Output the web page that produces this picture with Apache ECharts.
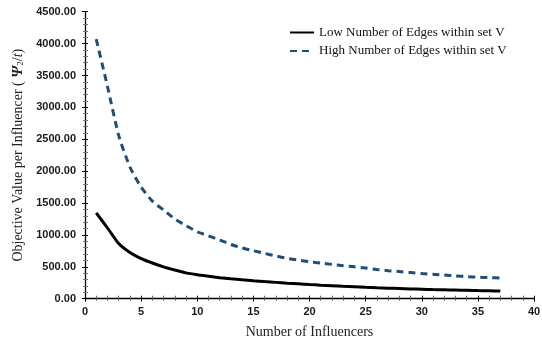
<!DOCTYPE html>
<html>
<head>
<meta charset="utf-8">
<script src="https://cdn.jsdelivr.net/npm/echarts@6/dist/echarts.min.js"></script>
<style>
  html, body { margin: 0; padding: 0; background: #fff; }
  #chart { width: 542px; height: 341px; }
</style>
</head>
<body>
<div id="chart"></div>
<script>
// Number of influencers (t)
const influencers = [1,2,3,4,5,6,7,8,9,10,11,12,13,14,15,16,17,18,19,20,21,22,23,24,25,26,27,28,29,30,31,32,33,34,35,36,37];

// Objective value per influencer, sparse edge set
const lowEdges = [1345,1110,865,725,630,560,500,450,405,375,352,330,312,296,281,268,256,244,233,222,212,203,194,186,178,171,165,159,153,148,143,139,135,131,127,124,121];

// Objective value per influencer, dense edge set
const highEdges = [4070,3330,2560,2065,1750,1530,1390,1250,1145,1050,985,920,850,795,752,711,670,633,606,580,559,538,518,500,481,458,440,425,410,395,383,370,358,347,337,330,325];

const seriesNames = ['Low Number of Edges within set V', 'High Number of Edges within set V'];

const serif = '"Liberation Serif", "Times New Roman", serif';
const sans = '"Liberation Sans", Arial, sans-serif';

const pairs = (ys) => influencers.map((x, i) => [x, ys[i]]);

const chart = echarts.init(document.getElementById('chart'), null, { renderer: 'canvas' });

chart.setOption({
  animation: false,
  backgroundColor: '#fff',
  grid: { left: 85, right: 8, top: 11.7, bottom: 42.3, containLabel: false, outerBoundsMode: 'none' },
  legend: {
    orient: 'vertical',
    left: 284,
    top: 21,
    padding: 5,
    itemWidth: 24,
    itemHeight: 14,
    itemGap: 5.5,
    itemStyle: { opacity: 0 },
    textStyle: { fontFamily: serif, fontSize: 13, color: '#111' },
    data: seriesNames
  },
  xAxis: [{
    type: 'value',
    min: 0, max: 40, interval: 5,
    name: 'Number of Influencers',
    nameLocation: 'middle',
    nameGap: 27,
    nameTextStyle: { fontFamily: serif, fontSize: 14, color: '#222' },
    axisLine: { onZero: false, lineStyle: { color: '#000', width: 1.3 } },
    axisTick: { show: true, length: 3, lineStyle: { color: '#000' } },
    minorTick: { show: true, splitNumber: 5, length: 2, lineStyle: { color: '#666' } },
    axisLabel: { fontFamily: sans, fontWeight: 'bold', fontSize: 11, color: '#1a1a1a', margin: 8 },
    splitLine: { show: false }
  }, {
    type: 'value',
    position: 'bottom',
    min: 0, max: 40, interval: 5,
    axisLine: { show: false },
    axisTick: { show: true, inside: true, length: 3, lineStyle: { color: '#000' } },
    minorTick: { show: true, splitNumber: 5, length: 3, lineStyle: { color: '#666' } },
    axisLabel: { show: false },
    splitLine: { show: false }
  }],
  yAxis: [{
    type: 'value',
    min: 0, max: 4500, interval: 500,
    name: '{n|Objective Value per Influencer ( }{psi|Ψ}{sub|2}{n|/}{t|t}{n|)}',
    nameLocation: 'middle',
    nameRotate: 90,
    nameGap: 55,
    nameTextStyle: {
      fontFamily: serif, fontSize: 14, color: '#222',
      rich: {
        n: { fontFamily: serif, fontSize: 14, color: '#222' },
        psi: { fontFamily: serif, fontSize: 15, fontStyle: 'italic', fontWeight: 'bold', color: '#222' },
        sub: { fontFamily: serif, fontSize: 9, color: '#222', verticalAlign: 'bottom', padding: [6, 0, 0, 0] },
        t: { fontFamily: serif, fontSize: 14, fontStyle: 'italic', color: '#222' }
      }
    },
    axisLine: { show: true, onZero: false, lineStyle: { color: '#000', width: 1.3 } },
    axisTick: { show: true, length: 3, lineStyle: { color: '#000' } },
    minorTick: { show: true, splitNumber: 5, length: 2, lineStyle: { color: '#777' } },
    axisLabel: {
      fontFamily: sans, fontWeight: 'bold', fontSize: 11, color: '#1a1a1a', margin: 9,
      formatter: (v) => v.toFixed(2)
    },
    splitLine: { show: false }
  }, {
    type: 'value',
    position: 'left',
    min: 0, max: 4500, interval: 500,
    axisLine: { show: false },
    axisTick: { show: true, inside: true, length: 3, lineStyle: { color: '#000' } },
    minorTick: { show: true, splitNumber: 5, length: 3, lineStyle: { color: '#777' } },
    axisLabel: { show: false },
    splitLine: { show: false }
  }],
  series: [{
    name: seriesNames[0],
    type: 'line',
    data: pairs(lowEdges),
    showSymbol: false,
    symbol: 'none',
    smooth: 0.2,
    lineStyle: { color: '#000', width: 3 },
    itemStyle: { color: '#000' }
  }, {
    name: seriesNames[1],
    type: 'line',
    data: pairs(highEdges),
    showSymbol: false,
    symbol: 'none',
    smooth: 0.2,
    lineStyle: { color: '#1f4e79', width: 3, type: [7, 5] },
    itemStyle: { color: '#1f4e79' }
  }]
});
</script>
</body>
</html>
